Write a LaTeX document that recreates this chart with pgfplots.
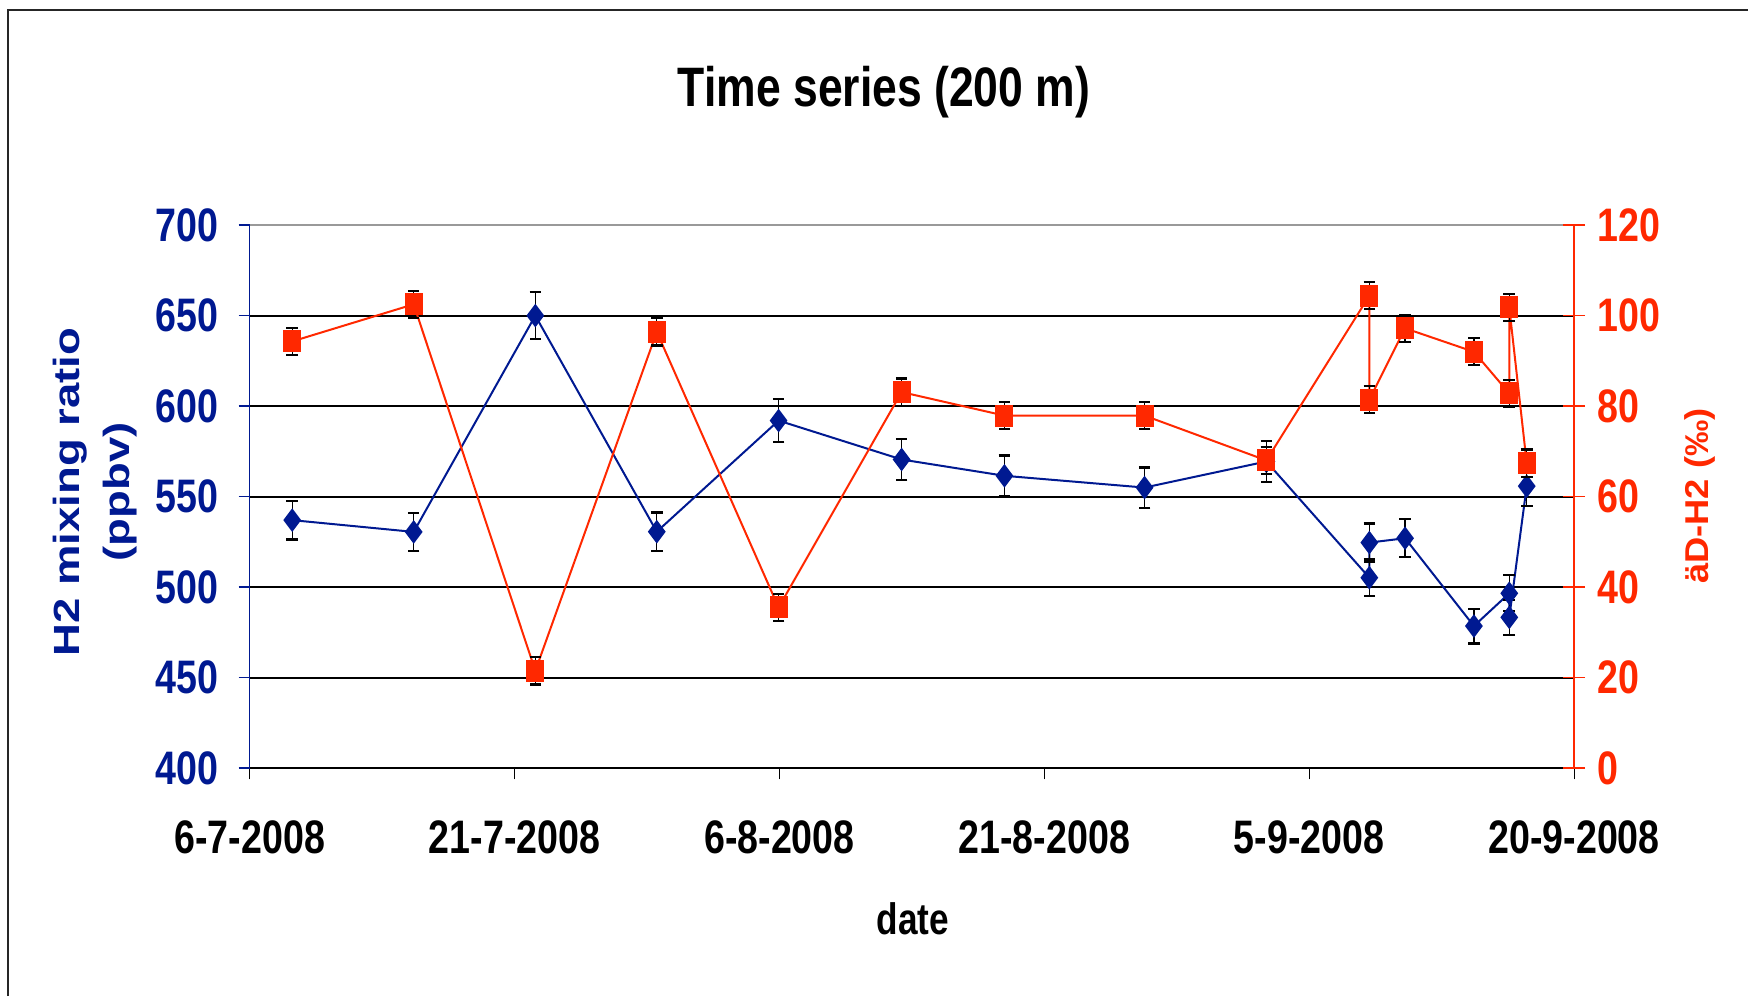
\documentclass[border=0pt]{standalone}
\usepackage{pgfplots}
\usepackage{pgfplotstable}
\pgfplotsset{compat=1.18}
\usepackage{fontspec}
\setmainfont{Liberation Sans}
\newfontfamily\hfont[FakeStretch=0.8]{Liberation Sans}
\newfontfamily\vfont[FakeStretch=1.25]{Liberation Sans}
\newfontfamily\rfont[FakeStretch=1.1]{Liberation Sans}
\definecolor{hblue}{RGB}{0,25,145}
\definecolor{hred}{RGB}{255,40,0}

% x = days after 6-7-2008
\pgfplotstableread{
x y e
2.44 537.0 10.7
9.41 530.5 10.6
16.39 650.0 13.0
23.36 530.6 10.6
30.35 592.0 11.8
37.41 570.5 11.4
43.31 561.5 11.2
51.35 555.0 11.1
58.34 569.4 11.4
64.25 505.2 10.1
64.25 524.6 10.5
66.30 527.0 10.5
70.25 478.5 9.6
72.28 496.6 9.9
72.28 483.3 9.7
73.28 555.8 11.1
}\bluedata

\pgfplotstableread{
x y e
2.44 94.3 3
9.41 102.5 3
16.39 21.5 3
23.36 96.4 3
30.35 35.5 3
37.41 83.1 3
43.31 77.9 3
51.35 77.9 3
58.34 68.0 3
64.25 104.4 3
64.25 81.4 3
66.30 97.2 3
70.25 92.0 3
72.28 82.8 3
72.28 101.8 3
73.28 67.4 3
}\reddata

\pgfplotsset{
  frameaxis/.style={
    at={(124.85pt,-384.05pt)}, anchor=south west,
    width=662.2pt, height=271.5pt, scale only axis,
    xmin=0, xmax=76,
    /pgf/number format/assume math mode=true,
    clip=false,
  },
}

\begin{document}
\begin{tikzpicture}
\useasboundingbox (0,0) rectangle (874pt,-498pt);
\draw[black!85, line width=1pt] (4.15pt,-498pt) -- (4.15pt,-4.85pt) -- (874pt,-4.85pt);

\node[anchor=base, font=\hfont\bfseries\fontsize{27.8}{30}\selectfont] at (442pt,-53.3pt) {Time series (200 m)};

\begin{axis}[
  frameaxis,
  ymin=400, ymax=700,
  axis x line*=bottom, axis y line*=left,
  x axis line style={black, line width=1pt, -},
  y axis line style={hblue, line width=0.7pt, -},
  xtick={0,15.2,30.4,45.6,60.8,76},
  xticklabels={6-7-2008,21-7-2008,6-8-2008,21-8-2008,5-9-2008,20-9-2008},
  ytick={400,450,...,700},
  ymajorgrids, major grid style={black, line width=1pt},
  tick align=outside, major tick length=5.6pt,
  xtick style={black, line width=0.6pt},
  ytick style={hblue, line width=0.8pt},
  ticklabel style={font=\hfont\bfseries\fontsize{23.5}{23.5}\selectfont},
  yticklabel style={text=hblue, anchor=east, inner sep=0pt, xshift=-9.8pt},
  xticklabel style={text=black, anchor=base, inner sep=0pt, yshift=-37pt},
]
\addplot[hblue, line width=1pt, mark=diamond*, mark size=5.1pt,
  mark options={solid, draw=hblue, fill=hblue},
  error bars/.cd, y dir=both, y explicit,
  error bar style={black, line width=0.7pt},
  error mark options={black, line width=1.1pt, mark size=2.9pt, rotate=90}]
  table[x=x, y=y, y error=e] {\bluedata};
\draw[gray!80, line width=1pt] (rel axis cs:0,1) -- (rel axis cs:1,1);
\end{axis}

\begin{axis}[
  frameaxis,
  ymin=0, ymax=120,
  axis x line=none, axis y line*=right,
  y axis line style={hred, line width=0.8pt, -},
  ytick={0,20,...,120},
  tick align=center, major tick length=11pt,
  ytick style={hred, line width=0.8pt},
  ticklabel style={font=\hfont\bfseries\fontsize{23.5}{23.5}\selectfont},
  yticklabel style={text=hred, anchor=west, inner sep=0pt, xshift=6pt},
]
\addplot[hred, line width=1pt, mark=square*, mark size=5pt,
  mark options={solid, xscale=0.8, draw=hred, fill=hred},
  error bars/.cd, y dir=both, y explicit,
  error bar style={black, line width=0.7pt},
  error mark options={black, line width=1.1pt, mark size=2.9pt, rotate=90}]
  table[x=x, y=y, y error=e] {\reddata};
\end{axis}

\node[rotate=90, align=center, text=hblue, font=\vfont\bfseries\fontsize{18.2}{25}\selectfont] at (47.5pt,-246pt) {H2 mixing ratio\\(ppbv)};
\node[rotate=90, text=hred, font=\rfont\bfseries\fontsize{16.5}{18}\selectfont] at (850pt,-248pt) {äD-H2 (‰)};
\node[anchor=base, font=\hfont\bfseries\fontsize{22}{24}\selectfont] at (456.5pt,-467pt) {date};
\end{tikzpicture}
\end{document}
